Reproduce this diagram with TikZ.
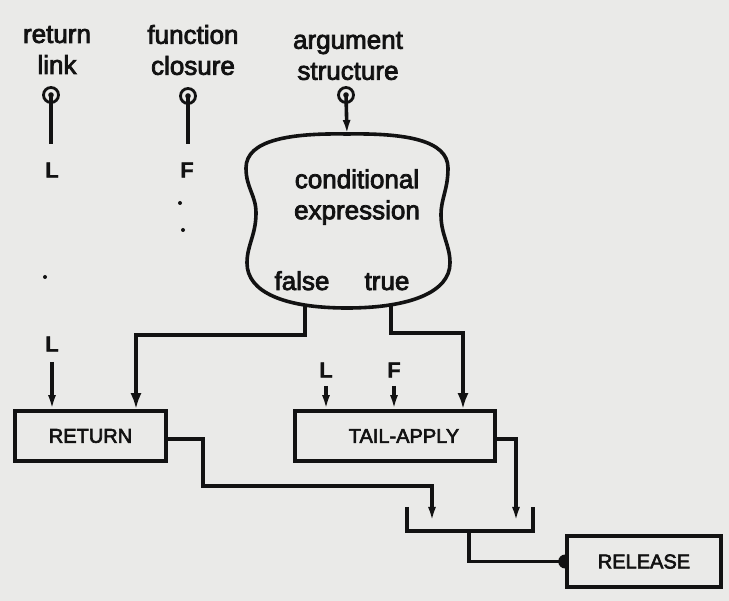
\documentclass[tikz,border=0pt]{standalone}
\usepackage{fontspec}
\setmainfont{Liberation Sans}
\newfontfamily\medfont{Liberation Sans}[FakeBold=3]
\newfontfamily\boldfont{Liberation Sans Bold}[FakeBold=1]
\usetikzlibrary{arrows.meta}
\definecolor{paper}{RGB}{234,234,232}
\definecolor{ink}{RGB}{18,18,18}
\tikzset{
  big/.style={font=\medfont\fontsize{26}{31}\selectfont, text=ink, align=center, inner sep=0pt},
  sig/.style={font=\boldfont\fontsize{22}{26}\selectfont, text=ink, inner sep=0pt},
  opbox/.style={draw=ink, line width=3.6pt, rectangle, font=\medfont\fontsize{20}{24}\selectfont, text=ink, minimum height=50pt, inner sep=0pt},
  port/.style={draw=ink, line width=2.8pt, circle, minimum size=15pt, inner sep=0pt},
  wire/.style={draw=ink, line width=3.6pt},
  arr/.style={wire, -{Latex[length=16pt,width=11pt]}},
  sarr/.style={wire, -{Latex[length=14pt,width=8pt]}}
}
\begin{document}
\begin{tikzpicture}[x=1pt,y=-1pt]
\useasboundingbox (0,0) rectangle (729,601);
\fill[paper] (0,0) rectangle (729,601);

% input labels
\node[big] (lret) at (57,50) {return\\link};
\node[big] (lfun) at (193,50) {function\\closure};
\node[big] (larg) at (348,56) {argument\\structure};

% input ports
\node[port] (pret) at (51,95) {};
\node[port] (pfun) at (188,96) {};
\node[port] (parg) at (346,95) {};
\fill[ink] (pret.center) circle[radius=2.8pt];
\fill[ink] (pfun.center) circle[radius=2.8pt];
\fill[ink] (parg.center) circle[radius=2.8pt];

\node[sig] (sL) at (52,170) {L};
\node[sig] (sF) at (187,170) {F};
\coordinate (eL) at (51,144);
\coordinate (eF) at (188,144);
\draw[wire] (pret.center) -- (eL);
\draw[wire] (pfun.center) -- (eF);

% dots
\fill[ink] (180,203) circle[radius=2pt];
\fill[ink] (183,230) circle[radius=2pt];
\fill[ink] (45,277) circle[radius=2pt];

% conditional expression cloud
\coordinate (ctop) at (347,134);
\draw[wire] (ctop)
  .. controls (405,133) and (448,140) .. (448,168)
  .. controls (448,190) and (441,198) .. (441,215)
  .. controls (441,235) and (450,245) .. (450,263)
  .. controls (450,292) and (410,308) .. (347,308)
  .. controls (284,308) and (247,292) .. (247,263)
  .. controls (247,245) and (256,235) .. (256,213)
  .. controls (256,195) and (246,188) .. (246,168)
  .. controls (246,140) and (290,133) .. (ctop) -- cycle;
\node[big] (cond) at (357,197) {conditional\\expression};
\node[big, anchor=base] (tf) at (302,290) {false};
\node[big, anchor=base] (tt) at (387,290) {true};
\coordinate (fexit) at (305,304);
\coordinate (texit) at (391,304);
\draw[sarr] (parg.center) -- (ctop);

% operators
\node[opbox, minimum width=151pt] (ret) at (90.5,436) {RETURN};
\node[opbox, minimum width=200pt] (tail) at (395,436) {\hspace*{18pt}TAIL-APPLY};
\node[opbox, minimum width=154pt, minimum height=51pt] (rel) at (644,561.5) {RELEASE};

% inputs to RETURN
\node[sig] (rL) at (52,344) {L};
\draw[sarr] ([yshift=-10pt]rL.south) -- (rL.south |- ret.north);
\draw[arr] (fexit) -- (305,335) -| ([xshift=45.5pt]ret.north);

% inputs to TAIL-APPLY
\node[sig] (tL) at (326,370) {L};
\node[sig] (tF) at (394,370) {F};
\draw[sarr] ([yshift=-8pt]tL.south) -- (tL.south |- tail.north);
\draw[sarr] ([yshift=-8pt]tF.south) -- (tF.south |- tail.north);
\draw[arr] (texit) -- (391,333) -| ([xshift=68pt]tail.north);

% merge
\coordinate (jA) at (432,521);
\coordinate (jB) at (516,521);
\coordinate (jO) at (469,531);
\draw[wire] (407,507) -- (407,531) -- (533,531) -- (533,507);
\draw[sarr] ([yshift=-3pt]ret.east) -- (203,439) -- (203,486) -| (jA);
\draw[sarr] ([yshift=-3pt]tail.east) -| (jB);
\draw[wire] (jO) |- (rel.west);
\begin{scope}
  \clip ([shift={(-12pt,-12pt)}]rel.west) rectangle ([shift={(0pt,12pt)}]rel.west);
  \fill[ink] (rel.west) circle[radius=7pt];
\end{scope}
\end{tikzpicture}
\end{document}
